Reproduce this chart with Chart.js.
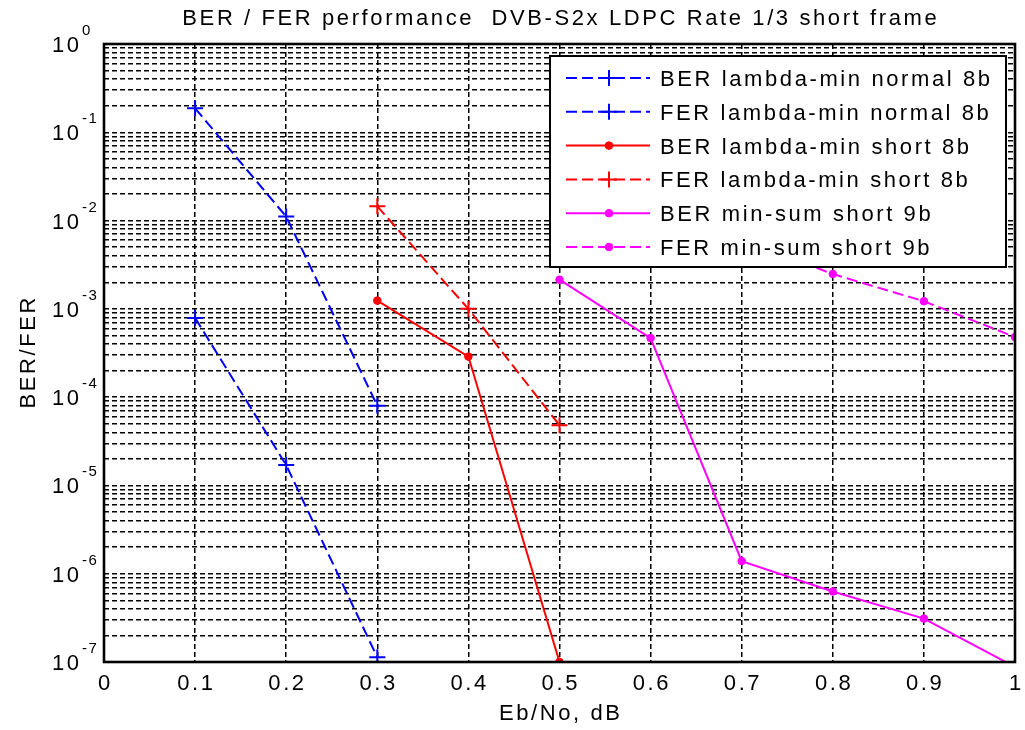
<!DOCTYPE html>
<html lang="en">
<head>
<meta charset="UTF-8">
<title>BER / FER performance DVB-S2x LDPC Rate 1/3 short frame</title>
<script src="https://cdn.jsdelivr.net/npm/chart.js"></script>
<style>
  body { margin: 0; background: #fff; }
  #wrap { width: 1025px; height: 730px; }
</style>
</head>
<body>
<div id="wrap"><canvas id="berChart" width="1025" height="730"></canvas></div>
<script>
// --- data (Eb/No in dB, error rates) ---
const xNormal8 = [0.1, 0.2, 0.3];
const berNormal8 = [7.9e-4, 1.7e-5, 1.13e-7];
const ferNormal8 = [0.187, 0.0111, 8.0e-5];

const xShort8 = [0.3, 0.4, 0.5];
const berShort8 = [1.24e-3, 2.88e-4, 1.0e-7];
const ferShort8 = [0.0145, 1.0e-3, 4.8e-5];

const xMinSumBer = [0.5, 0.6, 0.7, 0.8, 0.9, 1.0];
const berMinSum9 = [2.14e-3, 4.67e-4, 1.39e-6, 6.3e-7, 3.1e-7, 8.8e-8];
const xMinSumFer = [0.7, 0.8, 0.9, 1.0];
const ferMinSum9 = [6.1e-3, 2.48e-3, 1.22e-3, 4.8e-4];

// axis ticks
const xTickValues = [0, 0.1, 0.2, 0.3, 0.4, 0.5, 0.6, 0.7, 0.8, 0.9, 1];
const xTickLabels = ['0', '0.1', '0.2', '0.3', '0.4', '0.5', '0.6', '0.7', '0.8', '0.9', '1'];
const yDecadeExps = [0, -1, -2, -3, -4, -5, -6, -7];
const yMinorSteps = [2, 3, 4, 5, 6, 7, 8, 9];

const seriesLabels = [
  'BER lambda-min normal 8b',
  'FER lambda-min normal 8b',
  'BER lambda-min short 8b',
  'FER lambda-min short 8b',
  'BER min-sum short 9b',
  'FER min-sum short 9b'
];

const FONT = '"Liberation Sans", Arial, sans-serif';
const FS = 22, SP = 2.6; // font size and letter spacing of the labels
const BLUE = '#0000ff', RED = '#ff0000', MAGENTA = '#ff00ff';
const DASH = [11, 5];

// every grid line of the log axis: 1..9 x 10^k
const yGridValues = [];
yDecadeExps.forEach(e => {
  yGridValues.push(Math.pow(10, e));
  if (e > -7) yMinorSteps.forEach(m => yGridValues.push(m * Math.pow(10, e - 1)));
});

function toPoints(xs, ys) {
  return xs.map((x, i) => ({ x: x, y: ys[i] }));
}

function series(label, xs, ys, color, dash, marker, extra) {
  return Object.assign({
    label: label,
    data: toPoints(xs, ys),
    borderColor: color,
    backgroundColor: color,
    borderWidth: 2,
    borderDash: dash,
    pointStyle: marker,
    pointRadius: marker === 'cross' ? 8 : 3.8,
    pointBorderWidth: marker === 'cross' ? 2 : 1,
    pointBackgroundColor: color,
    pointBorderColor: color,
    tension: 0
  }, extra || {});
}

const datasets = [
  series(seriesLabels[0], xNormal8, berNormal8, BLUE, DASH, 'cross'),
  series(seriesLabels[1], xNormal8, ferNormal8, BLUE, DASH, 'cross'),
  series(seriesLabels[2], xShort8, berShort8, RED, [], 'circle'),
  series(seriesLabels[3], xShort8, ferShort8, RED, DASH, 'cross'),
  series(seriesLabels[4], xMinSumBer, berMinSum9, MAGENTA, [], 'circle', { clip: 0 }),
  series(seriesLabels[5], xMinSumFer, ferMinSum9, MAGENTA, DASH, 'circle')
];

// text with MATLAB-like wide letter spacing
function spacedText(ctx, str, x, y, size, spacing, align) {
  ctx.font = size + 'px ' + FONT;
  ctx.letterSpacing = '0px';
  const w = ctx.measureText(str).width + spacing * (str.length - 1);
  ctx.letterSpacing = spacing + 'px';
  ctx.textAlign = 'left';
  let x0 = x;
  if (align === 'center') x0 = x - w / 2;
  if (align === 'right') x0 = x - w;
  ctx.fillText(str, x0, y);
  return w;
}

const textPlugin = {
  id: 'matlabText',
  afterDraw(chart) {
    const ctx = chart.ctx;
    const area = chart.chartArea;
    const xs = chart.scales.x, ys = chart.scales.y;
    ctx.save();
    ctx.fillStyle = '#000';
    ctx.textBaseline = 'alphabetic';

    // axes frame
    ctx.setLineDash([]);
    ctx.strokeStyle = '#000';
    ctx.lineWidth = 2.6;
    ctx.strokeRect(area.left, area.top, area.right - area.left, area.bottom - area.top);

    // title
    spacedText(ctx, 'BER / FER performance  DVB-S2x LDPC Rate 1/3 short frame',
      (area.left + area.right) / 2, 25, FS, SP, 'center');

    // x tick labels
    xTickValues.forEach((v, i) => {
      spacedText(ctx, xTickLabels[i], xs.getPixelForValue(v), 690, FS, SP, 'center');
    });

    // y tick labels 10^k
    yDecadeExps.forEach(e => {
      const py = ys.getPixelForValue(Math.pow(10, e));
      const w = spacedText(ctx, '10', 52, py + 8, FS, SP, 'left');
      spacedText(ctx, e === 0 ? '0' : '-' + Math.abs(e), 52 + w + 3, py - 9, 15, 1.5, 'left');
    });

    // axis titles
    spacedText(ctx, 'Eb/No, dB', (area.left + area.right) / 2, 720, FS, SP, 'center');
    ctx.translate(35, (area.top + area.bottom) / 2);
    ctx.rotate(-Math.PI / 2);
    spacedText(ctx, 'BER/FER', 0, 0, FS, SP, 'center');
    ctx.restore();
  }
};

const legendPlugin = {
  id: 'boxLegend',
  afterDatasetsDraw(chart) {
    const ctx = chart.ctx;
    const box = { left: 550, top: 56, right: 1006, bottom: 267 };
    ctx.save();
    ctx.setLineDash([]);
    ctx.fillStyle = '#fff';
    ctx.fillRect(box.left, box.top, box.right - box.left, box.bottom - box.top);
    ctx.strokeStyle = '#000';
    ctx.lineWidth = 2;
    ctx.strokeRect(box.left, box.top, box.right - box.left, box.bottom - box.top);

    chart.data.datasets.forEach((ds, i) => {
      const cy = 78 + i * 33.8;
      ctx.strokeStyle = ds.borderColor;
      ctx.fillStyle = ds.borderColor;
      ctx.lineWidth = ds.borderWidth;
      ctx.setLineDash(ds.borderDash);
      ctx.beginPath();
      ctx.moveTo(566, cy);
      ctx.lineTo(650, cy);
      ctx.stroke();
      ctx.setLineDash([]);
      ctx.lineWidth = ds.pointBorderWidth;
      Chart.helpers.drawPoint(ctx, {
        pointStyle: ds.pointStyle,
        radius: ds.pointRadius,
        borderWidth: ds.pointBorderWidth,
        rotation: 0
      }, 609, cy);
      ctx.fillStyle = '#000';
      ctx.textBaseline = 'alphabetic';
      spacedText(ctx, ds.label, 660, cy + 8, FS, SP, 'left');
    });
    ctx.restore();
  }
};

const gridStyle = { color: '#000', lineWidth: 1.5, drawTicks: false };
const gridBorder = { display: false, dash: [5, 3] };

new Chart(document.getElementById('berChart'), {
  type: 'line',
  data: { datasets: datasets },
  options: {
    responsive: false,
    animation: false,
    devicePixelRatio: 1,
    layout: { padding: { left: 0, top: 44, right: 7, bottom: 0 } },
    plugins: {
      legend: { display: false },
      title: { display: false },
      tooltip: { enabled: false }
    },
    scales: {
      x: {
        type: 'linear',
        min: 0,
        max: 1,
        ticks: { display: false },
        grid: gridStyle,
        border: gridBorder,
        afterBuildTicks: s => { s.ticks = xTickValues.map(v => ({ value: v })); },
        afterFit: s => { s.height = 68; }
      },
      y: {
        type: 'logarithmic',
        min: 1e-7,
        max: 1,
        ticks: { display: false },
        grid: gridStyle,
        border: gridBorder,
        afterBuildTicks: s => { s.ticks = yGridValues.map(v => ({ value: v })); },
        afterFit: s => { s.width = 104; }
      }
    }
  },
  plugins: [legendPlugin, textPlugin]
});
</script>
</body>
</html>
